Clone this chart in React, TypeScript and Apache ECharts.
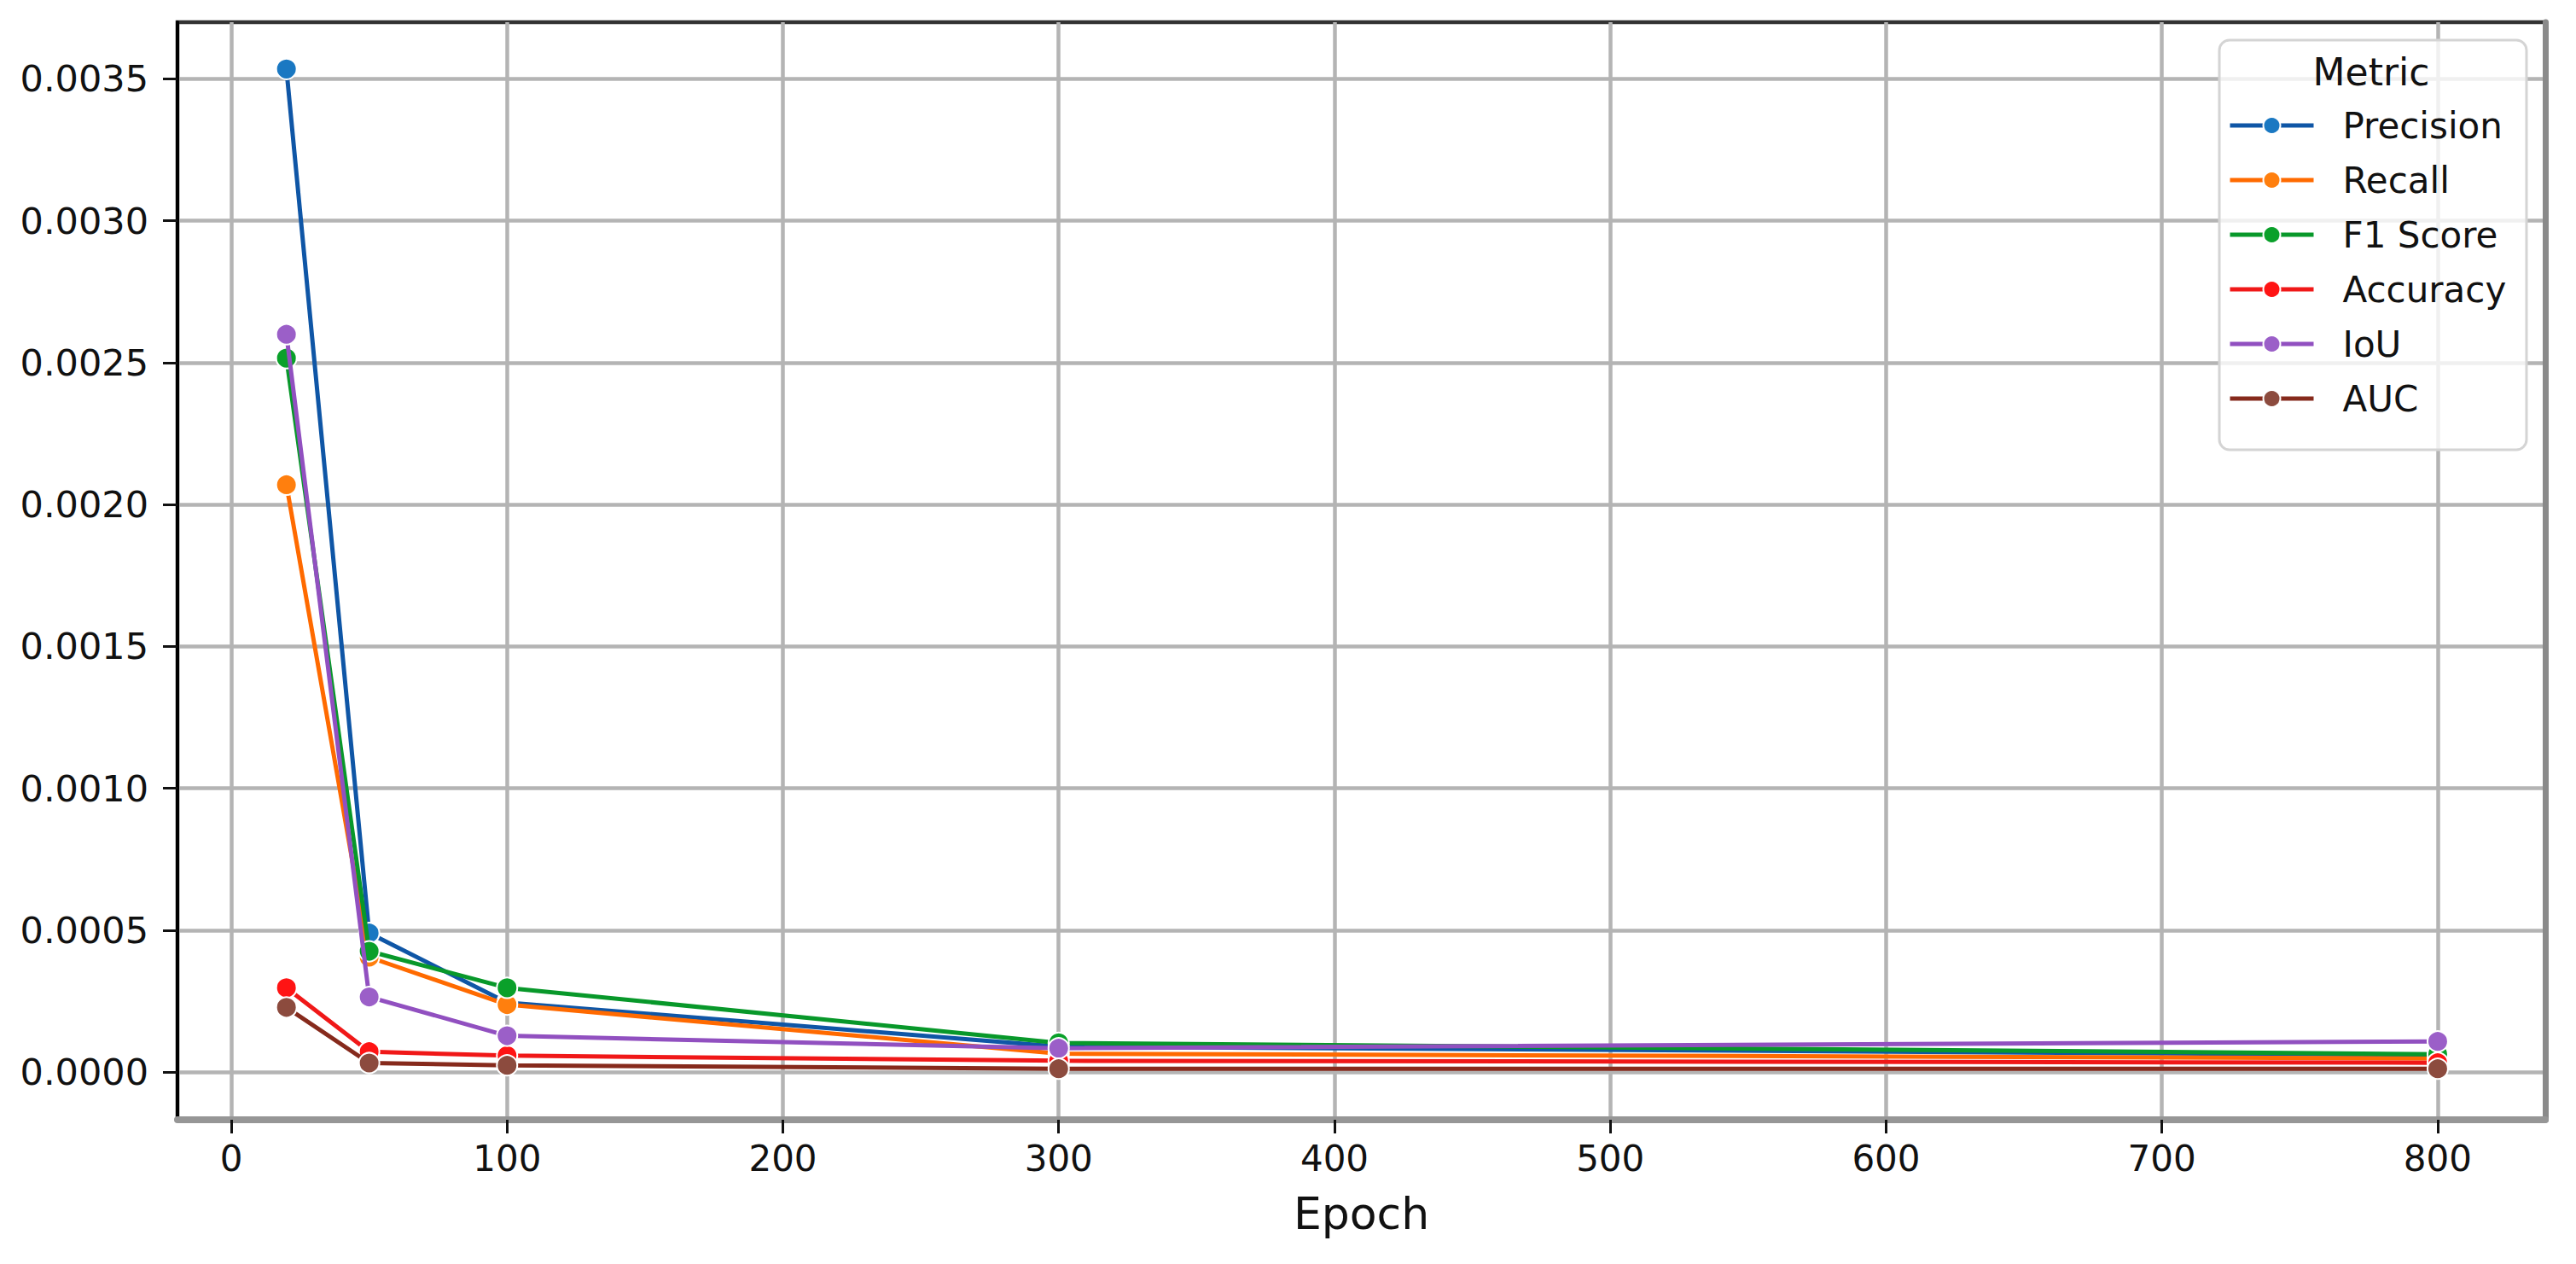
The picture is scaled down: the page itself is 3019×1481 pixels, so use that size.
import React, { useEffect, useRef } from "react";
import * as echarts from "echarts";

const epochs = [20, 50, 100, 300, 800];
const precision = [0.003535, 0.00049, 0.000245, 0.00009, 0.00006];
const recall = [0.00207, 0.000405, 0.000238, 0.000065, 0.000048];
const f1Score = [0.002516, 0.000426, 0.000297, 0.000103, 0.000063];
const accuracy = [0.000297, 0.000072, 0.000058, 0.00004, 0.000033];
const iou = [0.0026, 0.000265, 0.000128, 0.000084, 0.000108];
const auc = [0.000228, 0.000032, 0.000024, 0.000012, 0.000012];

const xTicks = [0, 100, 200, 300, 400, 500, 600, 700, 800];
const yTicks = [0, 0.0005, 0.001, 0.0015, 0.002, 0.0025, 0.003, 0.0035];

const seriesNames = ["Precision", "Recall", "F1 Score", "Accuracy", "IoU", "AUC"];
const seriesValues = [precision, recall, f1Score, accuracy, iou, auc];
const lineColors = ["#0f56a6", "#ff6a00", "#08982a", "#f01818", "#9150c0", "#862a1c"];
const markerColors = ["#1a78c2", "#ff7f0e", "#0aa02a", "#ff1414", "#9b5fc8", "#8c4b3e"];

const FONT = "DejaVu Sans";

export default function App() {
  const ref = useRef<HTMLDivElement>(null);
  useEffect(() => {
    document.body.style.margin = "0";
    if (!ref.current) return;
    const chart = echarts.init(ref.current, undefined, { renderer: "svg" });
    const series = seriesNames.map((name, i) => ({
      name,
      type: "line",
      data: epochs.map((e, j) => [e, seriesValues[i][j]]),
      symbol: "circle",
      symbolSize: 24,
      showSymbol: true,
      lineStyle: { color: lineColors[i], width: 5 },
      itemStyle: { color: markerColors[i], borderColor: "#ffffff", borderWidth: 2 },
      emphasis: { disabled: true },
      z: 2 + i * 0.01,
    }));
    chart.setOption({
      animation: false,
      backgroundColor: "#ffffff",
      grid: {
        left: 208,
        right: 36,
        top: 26,
        bottom: 169,
        show: true,
        borderColor: "#333333",
        borderWidth: 4.5,
        backgroundColor: "transparent",
      },
      xAxis: {
        type: "value",
        min: -19.5,
        max: 839,
        name: "Epoch",
        nameLocation: "middle",
        nameGap: 84,
        nameTextStyle: { fontFamily: FONT, fontSize: 52, color: "#111111" },
        axisLine: { show: true, onZero: false, lineStyle: { color: "#969696", width: 8 } },
        axisTick: {
          show: true,
          length: 16,
          customValues: xTicks,
          lineStyle: { color: "#111111", width: 3 },
        },
        axisLabel: {
          customValues: xTicks,
          fontFamily: FONT,
          fontSize: 42,
          color: "#111111",
          margin: 24,
        },
        splitLine: { show: true, lineStyle: { color: "#b4b4b4", width: 4.5 } },
      },
      yAxis: [
        {
          type: "value",
          min: -0.000168,
          max: 0.0037,
          axisLine: { show: true, onZero: false, lineStyle: { color: "#000000", width: 4 } },
          axisTick: {
            show: true,
            length: 17,
            customValues: yTicks,
            lineStyle: { color: "#111111", width: 3 },
          },
          axisLabel: {
            customValues: yTicks,
            formatter: (v: number) => v.toFixed(4),
            fontFamily: FONT,
            fontSize: 43,
            color: "#111111",
            margin: 34,
          },
          splitLine: { show: true, lineStyle: { color: "#b4b4b4", width: 4.5 } },
        },
        {
          type: "value",
          position: "right",
          min: -0.000168,
          max: 0.0037,
          axisLine: { show: true, onZero: false, lineStyle: { color: "#8a8a8a", width: 7 } },
          axisTick: { show: false },
          axisLabel: { show: false },
          splitLine: { show: false },
        },
      ],
      legend: {
        orient: "vertical",
        left: 2611,
        top: 126,
        padding: 0,
        itemWidth: 98,
        itemHeight: 25,
        itemGap: 22,
        selectedMode: false,
        data: seriesNames,
        lineStyle: { width: 5 },
        textStyle: {
          fontFamily: FONT,
          fontSize: 42,
          lineHeight: 42,
          color: "#111111",
          padding: [0, 0, 0, 29],
        },
        z: 5,
      },
      graphic: [
        {
          type: "rect",
          z: 4,
          shape: { x: 2601, y: 47, width: 360, height: 480, r: 12 },
          style: { fill: "rgba(255,255,255,0.8)", stroke: "#d4d4d4", lineWidth: 3 },
        },
        {
          type: "text",
          z: 5,
          x: 2779,
          y: 84,
          style: {
            text: "Metric",
            fontFamily: FONT,
            fontSize: 44,
            fill: "#111111",
            textAlign: "center",
            textVerticalAlign: "middle",
            align: "center",
            verticalAlign: "middle",
          },
        },
      ],
      series,
    });
    return () => chart.dispose();
  }, []);
  return <div ref={ref} style={{ width: 3019, height: 1481 }} />;
}
